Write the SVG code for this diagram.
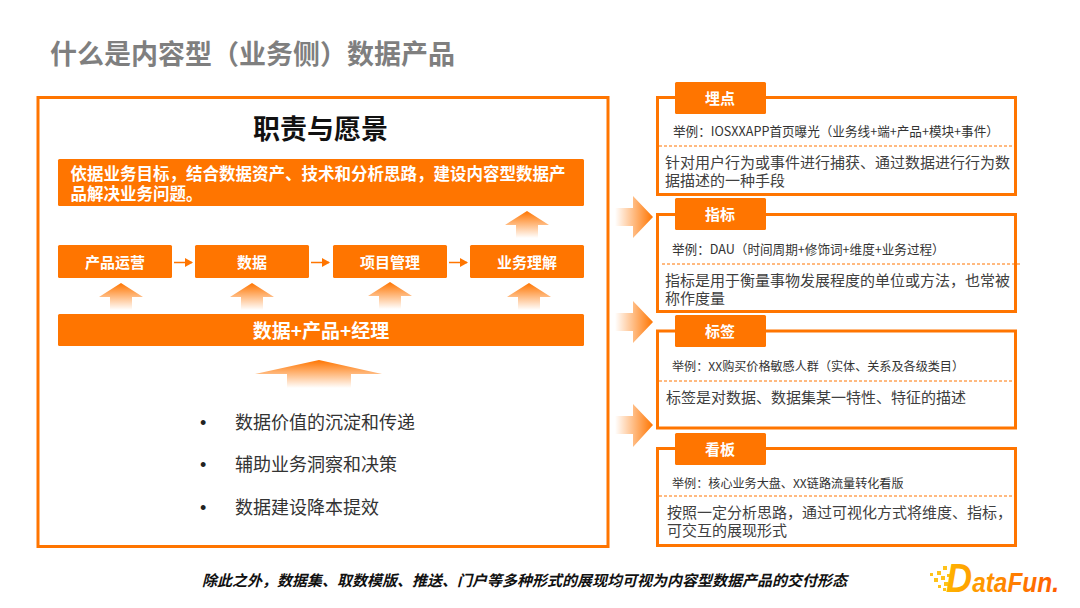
<svg xmlns="http://www.w3.org/2000/svg" width="1080" height="608" viewBox="0 0 1080 608">
<style>
text{font-family:"Noto Sans CJK SC","Microsoft YaHei","Liberation Sans",sans-serif}
.panel{fill:#fff;stroke:#ff7500;stroke-width:3}
.fill{fill:#ff7500}
.wb{fill:#fff;font-weight:700;text-anchor:middle;font-size:15px}
.tab{fill:#fff;font-weight:700;text-anchor:middle;font-size:15px}
.ex{fill:#333;font-size:12.600px}
.ex2{fill:#333;font-size:12.100px}
.body{fill:#404040;font-size:15px}
.dash{stroke:#ff7500;stroke-width:1;stroke-dasharray:3 2;fill:none}
.li{fill:#333;font-size:18px}
.bu{fill:#222;font-size:18px;font-family:"Liberation Sans",sans-serif}
</style>
<defs>
<linearGradient id="up" x1="0" y1="0" x2="0" y2="1"><stop offset="0" stop-color="#ff7500"/><stop offset="1" stop-color="#ff7500" stop-opacity="0"/></linearGradient>
<linearGradient id="rt" x1="0" y1="0" x2="1" y2="0"><stop offset="0" stop-color="#ff7500" stop-opacity="0"/><stop offset="1" stop-color="#ff7500"/></linearGradient>
<linearGradient id="logo" x1="0" y1="0" x2="1" y2="0"><stop offset="0" stop-color="#ffb400"/><stop offset="1" stop-color="#ff5a00"/></linearGradient>
<marker id="ah" markerUnits="userSpaceOnUse" markerWidth="8" markerHeight="9" refX="7" refY="4.500" orient="auto"><path d="M0 0L8 4.500L0 9z" fill="#ff7500"/></marker>
<path id="ua" d="M0 0L22 14H11V27H-11V14H-22z" fill="url(#up)"/>
</defs>

<text x="50" y="64" font-size="27" font-weight="700" fill="#7f7f7f">什么是内容型（业务侧）数据产品</text>

<g id="panel-main">
<rect class="panel" x="38" y="97.500" width="570" height="449"/>
<text x="320.500" y="139" text-anchor="middle" font-size="27" font-weight="700" fill="#111">职责与愿景</text>
</g>
<g id="node-goal">
<rect class="fill" x="58" y="159" width="526" height="47" rx="1.500"/>
<text fill="#fff" font-weight="700" font-size="16.500"><tspan x="70.500" y="179.500">依据业务目标，结合数据资产、技术和分析思路，建设内容型数据产</tspan><tspan x="70.500" y="200">品解决业务问题。</tspan></text>
</g>
<g id="node-ops"><rect class="fill" x="58" y="245" width="114" height="33" rx="1.500"/><text class="wb" x="115" y="267.500">产品运营</text></g>
<g id="node-data"><rect class="fill" x="195" y="245" width="114" height="33" rx="1.500"/><text class="wb" x="252" y="267.500">数据</text></g>
<g id="node-pm"><rect class="fill" x="333" y="245" width="114" height="33" rx="1.500"/><text class="wb" x="390" y="267.500">项目管理</text></g>
<g id="node-biz"><rect class="fill" x="470" y="245" width="114" height="33" rx="1.500"/><text class="wb" x="527" y="267.500">业务理解</text></g>
<g id="node-combo"><rect class="fill" x="58" y="314" width="526" height="32" rx="1.500"/><text x="321" y="338" fill="#fff" font-weight="700" text-anchor="middle" font-size="19">数据+产品+经理</text></g>

<g id="connectors" fill="none" stroke="#ff7500" stroke-width="1.500">
<line x1="174" y1="262.500" x2="192" y2="262.500" marker-end="url(#ah)"/>
<line x1="311" y1="262.500" x2="329" y2="262.500" marker-end="url(#ah)"/>
<line x1="449" y1="262.500" x2="467" y2="262.500" marker-end="url(#ah)"/>
<use href="#ua" x="121" y="283" stroke="none"/>
<use href="#ua" x="252" y="283" stroke="none"/>
<use href="#ua" x="390" y="282" stroke="none"/>
<use href="#ua" x="529" y="283" stroke="none"/>
<use href="#ua" x="527" y="211" stroke="none"/>
<path d="M319 360L382 374H351V388H287V374H255z" fill="url(#up)" stroke="none"/>
<path d="M615 208H633V196L653 217 633 238V226H615z" fill="url(#rt)" stroke="none"/>
<path d="M615 313H633V301L653 322 633 343V331H615z" fill="url(#rt)" stroke="none"/>
<path d="M615 416H633V404L653 425 633 447V434H615z" fill="url(#rt)" stroke="none"/>
</g>

<g id="list">
<text class="bu" x="200" y="428.500">•</text><text class="li" x="235" y="428.500">数据价值的沉淀和传递</text>
<text class="bu" x="200" y="470.500">•</text><text class="li" x="235" y="470.500">辅助业务洞察和决策</text>
<text class="bu" x="200" y="513.500">•</text><text class="li" x="235" y="513.500">数据建设降本提效</text>
</g>

<g id="card-maidian">
<rect class="panel" x="657.500" y="97.500" width="358" height="97"/>
<rect class="fill" x="675" y="82" width="91" height="32" rx="1.500"/><text class="tab" x="720" y="104">埋点</text>
<text class="ex" x="673" y="136">举例：IOSXXAPP首页曝光（业务线+端+产品+模块+事件）</text>
<line class="dash" x1="659" y1="146" x2="1015" y2="146"/>
<text class="body"><tspan x="665" y="168">针对用户行为或事件进行捕获、通过数据进行行为数</tspan><tspan x="665" y="186">据描述的一种手段</tspan></text>
</g>
<g id="card-zhibiao">
<rect class="panel" x="657.500" y="214.500" width="358" height="97"/>
<rect class="fill" x="675" y="198" width="91" height="32" rx="1.500"/><text class="tab" x="720" y="220">指标</text>
<text class="ex" x="672" y="254">举例：DAU（时间周期+修饰词+维度+业务过程）</text>
<line class="dash" x1="662" y1="264" x2="1021" y2="264"/>
<text class="body"><tspan x="665" y="286">指标是用于衡量事物发展程度的单位或方法，也常被</tspan><tspan x="665" y="304">称作度量</tspan></text>
</g>
<g id="card-biaoqian">
<rect class="panel" x="657.500" y="331" width="358" height="97"/>
<rect class="fill" x="675" y="315" width="91" height="32" rx="1.500"/><text class="tab" x="720" y="337">标签</text>
<text class="ex2" x="672" y="371">举例：XX购买价格敏感人群（实体、关系及各级类目）</text>
<line class="dash" x1="659" y1="381" x2="1015" y2="381"/>
<text class="body" x="666" y="403">标签是对数据、数据集某一特性、特征的描述</text>
</g>
<g id="card-kanban">
<rect class="panel" x="657.500" y="448.500" width="358" height="97"/>
<rect class="fill" x="675" y="433" width="91" height="32" rx="1.500"/><text class="tab" x="720" y="455">看板</text>
<text class="ex2" x="672" y="488">举例：核心业务大盘、XX链路流量转化看版</text>
<line class="dash" x1="659" y1="496" x2="1015" y2="496"/>
<text class="body"><tspan x="667" y="518">按照一定分析思路，通过可视化方式将维度、指标，</tspan><tspan x="667" y="536">可交互的展现形式</tspan></text>
</g>

<text x="524.500" y="586" text-anchor="middle" font-size="15" font-weight="700" font-style="italic" fill="#111">除此之外，数据集、取数模版、推送、门户等多种形式的展现均可视为内容型数据产品的交付形态</text>

<g id="logo-datafun">
<g fill="#ffc21a">
<rect x="930" y="573" width="3" height="3"/><rect x="937" y="571" width="4" height="4"/><rect x="943" y="566" width="4" height="4"/>
<rect x="934" y="578" width="4" height="4"/><rect x="941" y="576" width="4" height="4"/><rect x="947" y="574" width="3" height="3"/>
<rect x="938" y="585" width="3" height="3"/><rect x="944" y="582" width="4" height="4"/><rect x="943" y="588" width="3" height="3"/>
</g>
<text x="946" y="592" style="font-family:'Liberation Sans',sans-serif" font-weight="700" font-style="italic" fill="url(#logo)" textLength="113" lengthAdjust="spacingAndGlyphs"><tspan font-size="40">D</tspan><tspan font-size="27">ataFun.</tspan></text>
</g>
</svg>
